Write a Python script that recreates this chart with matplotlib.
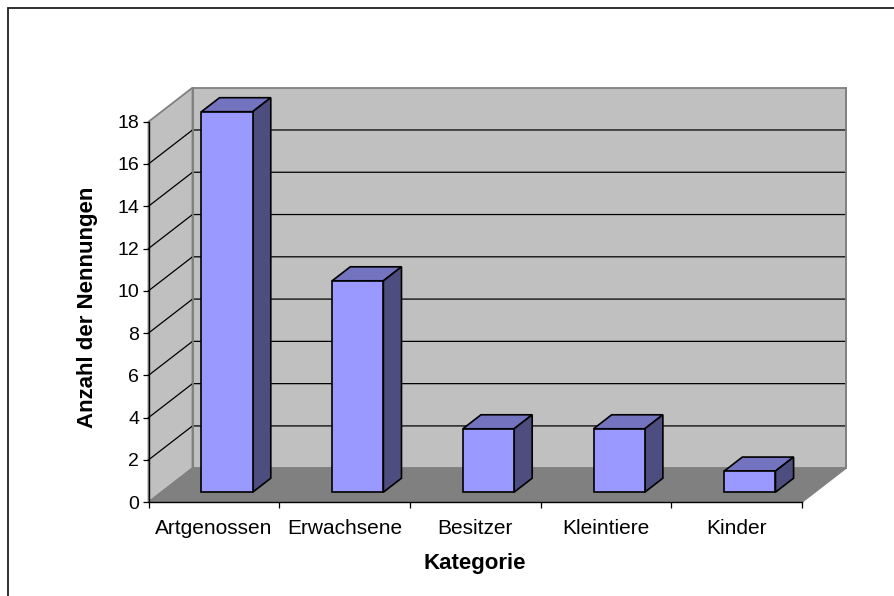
import matplotlib
matplotlib.use("Agg")
import matplotlib.pyplot as plt
from matplotlib.patches import Polygon, Rectangle
from matplotlib.lines import Line2D

categories = ["Artgenossen", "Erwachsene", "Besitzer", "Kleintiere", "Kinder"]
values = [18, 10, 3, 3, 1]
y_ticks = list(range(0, 20, 2))

W, H = 894, 596
plt.rcParams["font.family"] = ["Liberation Sans", "DejaVu Sans"]
fig = plt.figure(figsize=(W / 100, H / 100), dpi=100)

# outer chart frame
fig.add_artist(Rectangle((8 / W, -0.02), 1.1, (H - 8) / H + 0.02, transform=fig.transFigure,
                         fill=False, ec="#202020", lw=1.3))

L, R, T, B = 148.5, 802, 121.7, 502.2
ax = fig.add_axes([L / W, 1 - B / H, (R - L) / W, (B - T) / H])
ax.set_xlim(0, 5)
ax.set_ylim(0, 18)
ax.patch.set_visible(False)

DX = 44 / ((R - L) / 5)      # depth shift in x data units
DY = 34 / ((B - T) / 18)     # depth shift in y data units


def P(x, y, d):
    return (x + d * DX, y + d * DY)


def poly(pts, fc, ec="black", lw=1.0, z=2):
    ax.add_patch(Polygon(pts, closed=True, fc=fc, ec=ec, lw=lw, zorder=z, clip_on=False,
                         joinstyle="miter"))


wall = "#C0C0C0"
edge = "#808080"
# back wall, side wall, floor
poly([P(0, 0, 1), P(5, 0, 1), P(5, 18, 1), P(0, 18, 1)], wall, edge, 1.3, 1)
poly([P(0, 0, 0), P(0, 0, 1), P(0, 18, 1), P(0, 18, 0)], wall, edge, 1.3, 1)
poly([P(0, 0, 0), P(5, 0, 0), P(5, 0, 1), P(0, 0, 1)], "#808080", edge, 1.0, 1)

# gridlines on side and back walls
for v in y_ticks[1:-1]:
    pts = [P(0, v, 0), P(0, v, 1), P(5, v, 1)]
    ax.add_line(Line2D([p[0] for p in pts], [p[1] for p in pts], color="black", lw=0.9,
                       zorder=1.5, clip_on=False))

# redraw wall frame above gridlines
ax.add_line(Line2D(*zip(P(0, 0, 1), P(0, 18, 1)), color=edge, lw=1.3, zorder=1.6, clip_on=False))
ax.add_line(Line2D(*zip(P(5, 0, 1), P(5, 18, 1)), color=edge, lw=1.3, zorder=1.6, clip_on=False))

# bars
bw = 0.392
d0, d1 = 10 / 34, 24 / 34
for i, v in enumerate(values):
    xl = i + 0.5 - bw / 2 + 0.002
    xr = xl + bw
    poly([P(xl, v, d0), P(xr, v, d0), P(xr, v, d1), P(xl, v, d1)], "#7373BF", lw=1.2, z=3)
    poly([P(xr, 0, d0), P(xr, 0, d1), P(xr, v, d1), P(xr, v, d0)], "#4D4D80", lw=1.2, z=3)
    poly([P(xl, 0, d0), P(xr, 0, d0), P(xr, v, d0), P(xl, v, d0)], "#9999FF", lw=1.2, z=4)

# axes
for s in ("top", "right"):
    ax.spines[s].set_visible(False)
for s in ("left", "bottom"):
    ax.spines[s].set_linewidth(1.0)
    ax.spines[s].set_zorder(5)
ax.set_yticks(y_ticks)
ax.set_xticks(range(6))
ax.set_xticklabels([])
ax.set_xticks([i + 0.5 for i in range(5)], minor=True)
ax.set_xticklabels(categories, minor=True, fontsize=15)
ax.tick_params(axis="x", which="minor", length=0, pad=12.2)
ax.tick_params(axis="x", which="major", length=4.3, width=0.9, direction="out")
ax.tick_params(axis="y", length=4.3, width=0.9, labelsize=14, pad=2.5)
ax.set_xlabel("Kategorie", fontsize=16, fontweight="bold")
ax.xaxis.set_label_coords((474.5 - L) / (R - L), -(564 - B) / (B - T), transform=ax.transAxes)
ax.xaxis.label.set_verticalalignment("center")
ax.set_ylabel("Anzahl der Nennungen", fontsize=16, fontweight="bold")
ax.yaxis.set_label_coords((87.5 - L) / (R - L), (B - 307) / (B - T), transform=ax.transAxes)
ax.yaxis.label.set_verticalalignment("center")

fig.savefig("out.png", dpi=100)
